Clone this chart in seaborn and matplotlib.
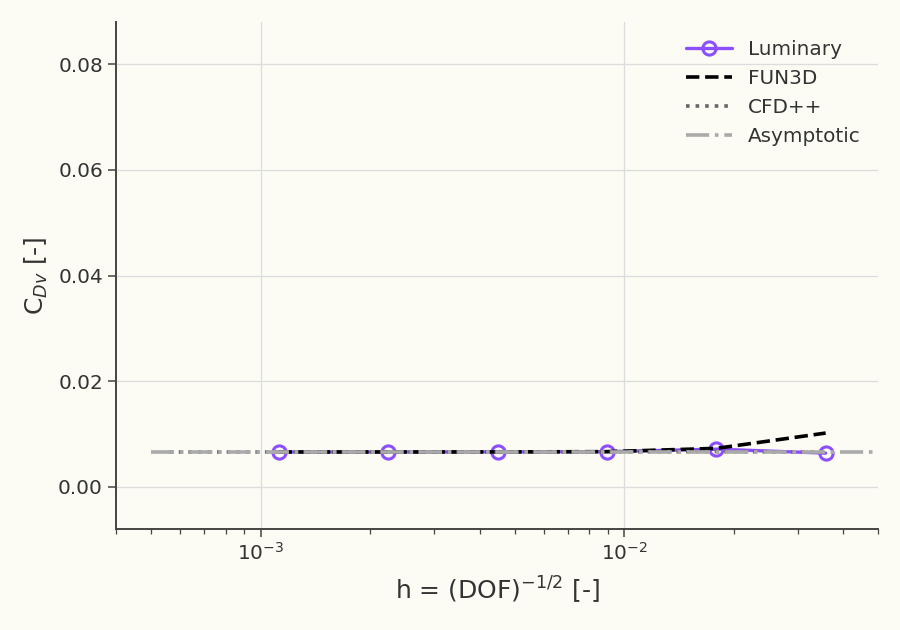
import numpy as np
import pandas as pd
import seaborn as sns
import matplotlib
matplotlib.use("Agg")
import matplotlib.pyplot as plt

# grid spacing h and viscous drag values
h_lum = [1.12e-3, 2.24e-3, 4.48e-3, 8.96e-3, 1.79e-2, 3.58e-2]
cdv_lum = [0.00662, 0.00662, 0.00663, 0.00668, 0.00715, 0.00640]

h_fun3d = [1.12e-3, 2.24e-3, 4.48e-3, 8.96e-3, 1.79e-2, 3.58e-2]
cdv_fun3d = [0.00662, 0.00662, 0.00663, 0.00668, 0.00730, 0.01020]

h_cfd = [5.6e-4, 1.12e-3, 2.24e-3, 4.48e-3, 8.96e-3, 1.79e-2, 3.58e-2]
cdv_cfd = [0.00662, 0.00662, 0.00662, 0.00663, 0.00665, 0.00670, 0.00660]

h_asym = [5.0e-4, 5.0e-2]
cdv_asym = [0.00662, 0.00662]

bg = "#fcfcf5"
sns.set_theme(style="whitegrid", rc={
    "axes.facecolor": bg, "figure.facecolor": bg,
    "grid.color": "#dcdcdc", "axes.edgecolor": "#444444",
})
plt.rcParams["font.family"] = ["DejaVu Sans"]

fig = plt.figure(figsize=(9, 6.3), dpi=100)
ax = fig.add_axes([0.129, 0.16, 0.847, 0.805])

df_lum = pd.DataFrame({"h": h_lum, "cdv": cdv_lum})
df_fun = pd.DataFrame({"h": h_fun3d, "cdv": cdv_fun3d})
df_cfd = pd.DataFrame({"h": h_cfd, "cdv": cdv_cfd})
df_asym = pd.DataFrame({"h": h_asym, "cdv": cdv_asym})

# Luminary first, the reference lines sit on top of it
sns.lineplot(data=df_lum, x="h", y="cdv", ax=ax, color="#8c4fff", lw=2.4,
             marker="o", markersize=9.5, markerfacecolor="none",
             markeredgewidth=2.2, markeredgecolor="#8c4fff",
             label="Luminary", zorder=2)
sns.lineplot(data=df_fun, x="h", y="cdv", ax=ax, color="black", lw=2.6,
             linestyle="--", label="FUN3D", zorder=3)
sns.lineplot(data=df_cfd, x="h", y="cdv", ax=ax, color="#666666", lw=2.6,
             linestyle=":", label="CFD++", zorder=4)
sns.lineplot(data=df_asym, x="h", y="cdv", ax=ax, color="#aaaaaa", lw=2.6,
             linestyle="-.", label="Asymptotic", zorder=5)

ax.set_xscale("log")
ax.set_xlim(4.0e-4, 5.0e-2)
ax.set_ylim(-0.008, 0.088)
ax.set_yticks([0.0, 0.02, 0.04, 0.06, 0.08])
ax.grid(True, which="major", color="#dcdcdc", lw=0.9)
ax.grid(False, which="minor")

for s in ["top", "right"]:
    ax.spines[s].set_visible(False)
ax.spines["left"].set_linewidth(1.4)
ax.spines["bottom"].set_linewidth(1.4)
ax.tick_params(axis="both", which="major", length=6, width=1.1, color="#444444",
               labelsize=14.4, labelcolor="#333333", bottom=True, left=True)
ax.tick_params(axis="x", which="minor", length=3.5, width=0.9, color="#444444", bottom=True)

ax.set_xlabel(r"h = (DOF)$^{-1/2}$ [-]", fontsize=18, color="#333333", labelpad=8)
ax.set_ylabel(r"C$_{Dv}$ [-]", fontsize=18, color="#333333", labelpad=6)

ax.legend(loc="upper right", frameon=False, fontsize=14.4, handlelength=2.3,
          labelcolor="#333333")

fig.savefig("out.png", dpi=100, facecolor=bg)
